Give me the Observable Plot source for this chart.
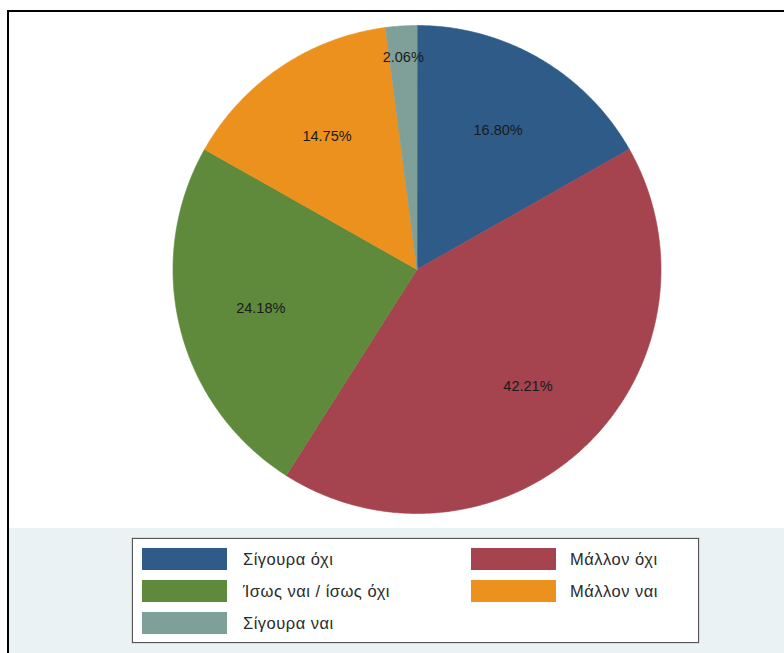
<!DOCTYPE html>
<html>
<head>
<meta charset="utf-8">
<script src="https://cdn.jsdelivr.net/npm/d3@7"></script>
<script src="https://cdn.jsdelivr.net/npm/@observablehq/plot@0.6"></script>
<style>
  html, body { margin: 0; padding: 0; background: #ffffff; overflow: hidden; }
  body { width: 784px; height: 653px; position: relative; font-family: "Liberation Sans", Arial, sans-serif; }
  #frame { position: absolute; left: 7px; top: 10px; width: 800px; height: 700px;
           border-left: 2px solid #000; border-top: 2px solid #000; background: #fff; }
  #chart svg { display: block; }
  #legendArea { position: absolute; left: 0; top: 516px; width: 800px; height: 200px; background: #eaf2f3; }
  #legendBox { position: absolute; left: 123px; top: 10px; width: 565px; height: 103px;
               background: #fff; border: 1px solid #555; box-shadow: 0 0 0 1px #d8dede; }
  .sw { position: absolute; width: 85px; height: 22px; }
  .lt { position: absolute; font-size: 16.5px; color: #2a2a2a; line-height: 22px; white-space: nowrap; letter-spacing: 0.5px; }
</style>
</head>
<body>
<div id="frame">
  <div id="chart"></div>
  <div id="legendArea"><div id="legendBox"></div></div>
</div>
<script>
// ---- data ----
const categories = ["Σίγουρα όχι", "Μάλλον όχι", "Ίσως ναι / ίσως όχι", "Μάλλον ναι", "Σίγουρα ναι"];
const values = [16.80, 42.21, 24.18, 14.75, 2.06];
const labels = ["16.80%", "42.21%", "24.18%", "14.75%", "2.06%"];
const colors = ["#2f5b88", "#a5434f", "#5f8a3b", "#ec911d", "#7fa098"];

// ---- build slice geometry (unit circle, clockwise from 12 o'clock) ----
const total = d3.sum(values);
const slicePts = [];
const labelPts = [];
let cum = 0;
categories.forEach((cat, i) => {
  const a0 = cum / total * 2 * Math.PI;
  cum += values[i];
  const a1 = cum / total * 2 * Math.PI;
  slicePts.push({cat, x: 0, y: 0});
  const steps = Math.max(2, Math.ceil((a1 - a0) / (Math.PI / 360)));
  for (let k = 0; k <= steps; k++) {
    const a = a0 + (a1 - a0) * k / steps;
    slicePts.push({cat, x: Math.sin(a), y: Math.cos(a)});
  }
  const mid = (a0 + a1) / 2;
  const r = values[i] / total < 0.05 ? 0.87 : 0.66;
  labelPts.push({cat, label: labels[i], x: r * Math.sin(mid), y: r * Math.cos(mid)});
});

const W = 775, H = 516;
const plot = Plot.plot({
  width: W,
  height: H,
  marginLeft: 163.5,
  marginRight: 123.5,
  marginTop: 13,
  marginBottom: 15,
  x: {domain: [-1, 1], axis: null},
  y: {domain: [-1, 1], axis: null},
  color: {domain: categories, range: colors},
  style: {background: "transparent", fontFamily: "'Liberation Sans', Arial, sans-serif"},
  marks: [
    Plot.line(slicePts, {x: "x", y: "y", z: "cat", fill: "cat", stroke: "cat", strokeWidth: 0.6, curve: "linear-closed"}),
    Plot.text(labelPts, {x: "x", y: "y", text: "label", fill: "#1a1a1a", fontSize: 14.5, letterSpacing: "1px"})
  ]
});
document.getElementById("chart").appendChild(plot);

// ---- legend ----
const box = document.getElementById("legendBox");
const positions = [
  {sx: 9, tx: 110, y: 9},
  {sx: 338, tx: 437, y: 9},
  {sx: 9, tx: 110, y: 41},
  {sx: 338, tx: 437, y: 41},
  {sx: 9, tx: 110, y: 73}
];
categories.forEach((cat, i) => {
  const p = positions[i];
  const sw = document.createElement("div");
  sw.className = "sw";
  sw.style.left = p.sx + "px";
  sw.style.top = p.y + "px";
  sw.style.background = colors[i];
  box.appendChild(sw);
  const t = document.createElement("div");
  t.className = "lt";
  t.style.left = p.tx + "px";
  t.style.top = p.y + "px";
  t.textContent = cat;
  box.appendChild(t);
});
</script>
</body>
</html>
